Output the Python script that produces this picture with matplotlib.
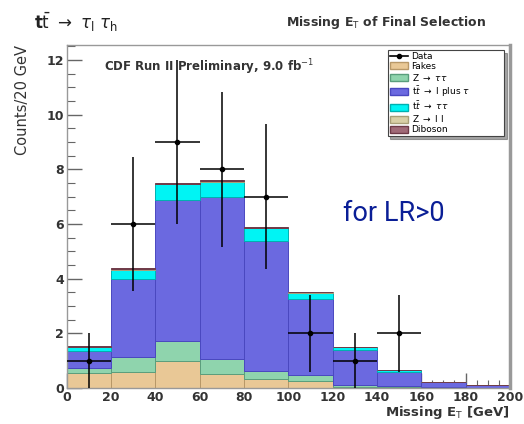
import numpy as np
import matplotlib
matplotlib.use("Agg")
import matplotlib.pyplot as plt
from matplotlib.ticker import MultipleLocator
from matplotlib.patches import Patch
from matplotlib.lines import Line2D

# --- DATA ---
bin_edges = [0, 20, 40, 60, 80, 100, 120, 140, 160, 180, 200]
fakes = [0.56, 0.60, 1.00, 0.52, 0.34, 0.27, 0.05, 0.05, 0.00, 0.00]
z_tautau = [0.16, 0.53, 0.73, 0.53, 0.29, 0.21, 0.07, 0.02, 0.02, 0.00]
tt_ltau = [0.63, 2.87, 5.14, 5.92, 4.74, 2.79, 1.27, 0.53, 0.18, 0.12]
tt_tautau = [0.15, 0.33, 0.58, 0.58, 0.48, 0.22, 0.11, 0.06, 0.01, 0.00]
z_ll = [0.01, 0.02, 0.02, 0.02, 0.01, 0.01, 0.00, 0.00, 0.00, 0.00]
diboson = [0.01, 0.03, 0.04, 0.03, 0.02, 0.01, 0.01, 0.00, 0.00, 0.00]
data_counts = [1, 6, 9, 8, 7, 2, 1, 2, 0, 0]

samples = [
    ("Fakes", fakes, "#e9c896", "#b89868"),
    ("Z $\\rightarrow$ $\\tau\\tau$", z_tautau, "#8fd4ad", "#5a9e7c"),
    ("t$\\bar{t}$ $\\rightarrow$ l plus $\\tau$", tt_ltau, "#6b69e0", "#4a48c0"),
    ("t$\\bar{t}$ $\\rightarrow$ $\\tau\\tau$", tt_tautau, "#00f4f4", "#00b0b0"),
    ("Z $\\rightarrow$ l l", z_ll, "#d8cfa6", "#a89f78"),
    ("Diboson", diboson, "#a06a78", "#6e3a48"),
]

fig = plt.figure(figsize=(5.24, 4.24), dpi=100)
ax = fig.add_axes([0.127, 0.085, 0.846, 0.809])

edges = np.array(bin_edges, dtype=float)
widths = np.diff(edges)
bottom = np.zeros(len(widths))
handles = [Line2D([], [], color="black", marker="o", markersize=3, lw=1.2, label="Data")]
for name, vals, fc, ec in samples:
    vals = np.array(vals)
    ax.bar(edges[:-1], vals, width=widths, bottom=bottom, align="edge",
           color=fc, edgecolor=ec, linewidth=0.7, zorder=2)
    bottom += vals
    handles.append(Patch(facecolor=fc, edgecolor=ec, label=name))

# data points with sqrt(N) errors
centers = (edges[:-1] + edges[1:]) / 2
counts = np.array(data_counts, dtype=float)
mask = counts > 0
ax.errorbar(centers[mask], counts[mask], yerr=np.sqrt(counts[mask]),
            xerr=widths[mask] / 2, fmt="o", color="black", markersize=3,
            elinewidth=1.1, capsize=0, zorder=4)

ax.set_xlim(0, 200)
ax.set_ylim(0, 12.55)
ax.xaxis.set_major_locator(MultipleLocator(20))
ax.xaxis.set_minor_locator(MultipleLocator(5))
ax.yaxis.set_major_locator(MultipleLocator(2))
ax.yaxis.set_minor_locator(MultipleLocator(0.5))
ax.tick_params(which="both", direction="in", top=False, right=False,
               colors="#666666", labelcolor="#333333", labelsize=9, pad=2)
ax.tick_params(which="major", length=11, width=1)
ax.tick_params(which="minor", length=6, width=0.8)
for lbl in ax.get_xticklabels() + ax.get_yticklabels():
    lbl.set_fontweight("bold")
for side in ax.spines.values():
    side.set_color("#999999")
    side.set_linewidth(1.0)
ax.spines["right"].set_linewidth(2.5)

ax.set_xlabel("Missing E$_\\mathrm{T}$ [GeV]", fontsize=9.5, fontweight="bold",
              color="#333333", loc="right", labelpad=0)
ax.set_ylabel("Counts/20 GeV", fontsize=10.5, color="#333333", loc="top", labelpad=12)

leg = ax.legend(handles=handles, loc="upper left", mode="expand", fontsize=6.5,
                frameon=True, fancybox=False, borderpad=0.25, labelspacing=0.1,
                handlelength=2.0, handleheight=0.85, handletextpad=0.4,
                bbox_to_anchor=(0.714, 0.747, 0.284, 0.252), shadow=True)
leg.get_frame().set_edgecolor("#444444")
leg.get_frame().set_linewidth(0.8)

ax.text(0.085, 0.935, "CDF Run II Preliminary, 9.0 fb$^{-1}$", transform=ax.transAxes,
        fontsize=8.5, fontweight="bold", color="#333333", va="center")
fig.text(0.655, 0.497, "for LR>0", fontsize=19.5, color="#0a1e96",
         family=["Roboto", "DejaVu Sans"], ha="left", va="center")

fig.text(0.065, 0.948, "t$\\bar{\\mathrm{t}}$ $\\rightarrow$ $\\tau_\\mathrm{l}$ $\\tau_\\mathrm{h}$",
         fontsize=12, fontweight="bold", color="#222222", va="center")
fig.text(0.545, 0.948, "Missing E$_\\mathrm{T}$ of Final Selection", fontsize=9,
         fontweight="bold", color="#333333", va="center")

fig.savefig("out.png", dpi=100)
